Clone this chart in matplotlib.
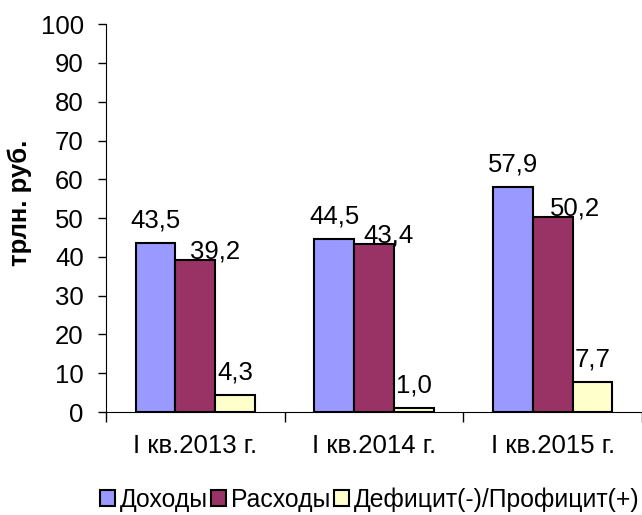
import matplotlib
matplotlib.use("Agg")
import matplotlib.pyplot as plt
import numpy as np

plt.rcParams['font.family'] = ['Liberation Sans', 'DejaVu Sans']

# данные
periods = ['I кв.2013 г.', 'I кв.2014 г.', 'I кв.2015 г.']
series_names = ['Доходы', 'Расходы', 'Дефицит(-)/Профицит(+)']
dohody = [43.5, 44.5, 57.9]
rashody = [39.2, 43.4, 50.2]
saldo = [4.3, 1.0, 7.7]
colors = ['#9999FF', '#993366', '#FFFFCC']

# сдвиг подписей (как в исходнике Excel): по x в долях категории, по y в единицах оси
label_dx = [[0, 0.11, 0], [0, 0.083, 0], [0, 0.127, 0]]
label_dy = [4.1, 0.4, 4.1]

fs = 18.5

fig = plt.figure(figsize=(6.42, 5.15), dpi=100)
ax = fig.add_axes([0.165, 0.2, 0.835, 0.753])

x = np.arange(len(periods))
w = 0.223
all_series = [dohody, rashody, saldo]
for i, vals in enumerate(all_series):
    pos = x + (i - 1) * w
    ax.bar(pos, vals, w, color=colors[i], edgecolor='black', linewidth=1.5,
           label=series_names[i], zorder=2)
    for j, v in enumerate(vals):
        ax.text(pos[j] + label_dx[j][i], v + label_dy[i], f'{v:.1f}'.replace('.', ','),
                ha='center', va='baseline', fontsize=fs, zorder=3)

ax.set_xlim(-0.5, 2.461)
ax.set_ylim(0, 100)
ax.set_yticks(range(0, 101, 10))
ax.set_xticks(x)
ax.set_xticklabels(periods, fontsize=fs)
ax.set_xticks([-0.5, 0.5, 1.5, 2.5], minor=True)
ax.tick_params(axis='x', which='major', length=0, pad=16)
ax.tick_params(axis='x', which='minor', length=7, width=1)
ax.tick_params(axis='y', labelsize=fs, length=6, width=1, pad=10)
ax.spines['top'].set_visible(False)
ax.spines['right'].set_visible(False)
ax.set_ylabel('трлн. руб.', fontsize=fs, fontweight='bold')
ax.yaxis.set_label_coords(-0.138, 0.539)

fig.legend(loc='center', bbox_to_anchor=(0.576, 0.03), ncol=3, frameon=False,
           fontsize=17.8, handlelength=0.6, handleheight=0.6, handletextpad=0.2,
           columnspacing=0.15, borderpad=0, borderaxespad=0)

fig.savefig('out.png', dpi=100)
